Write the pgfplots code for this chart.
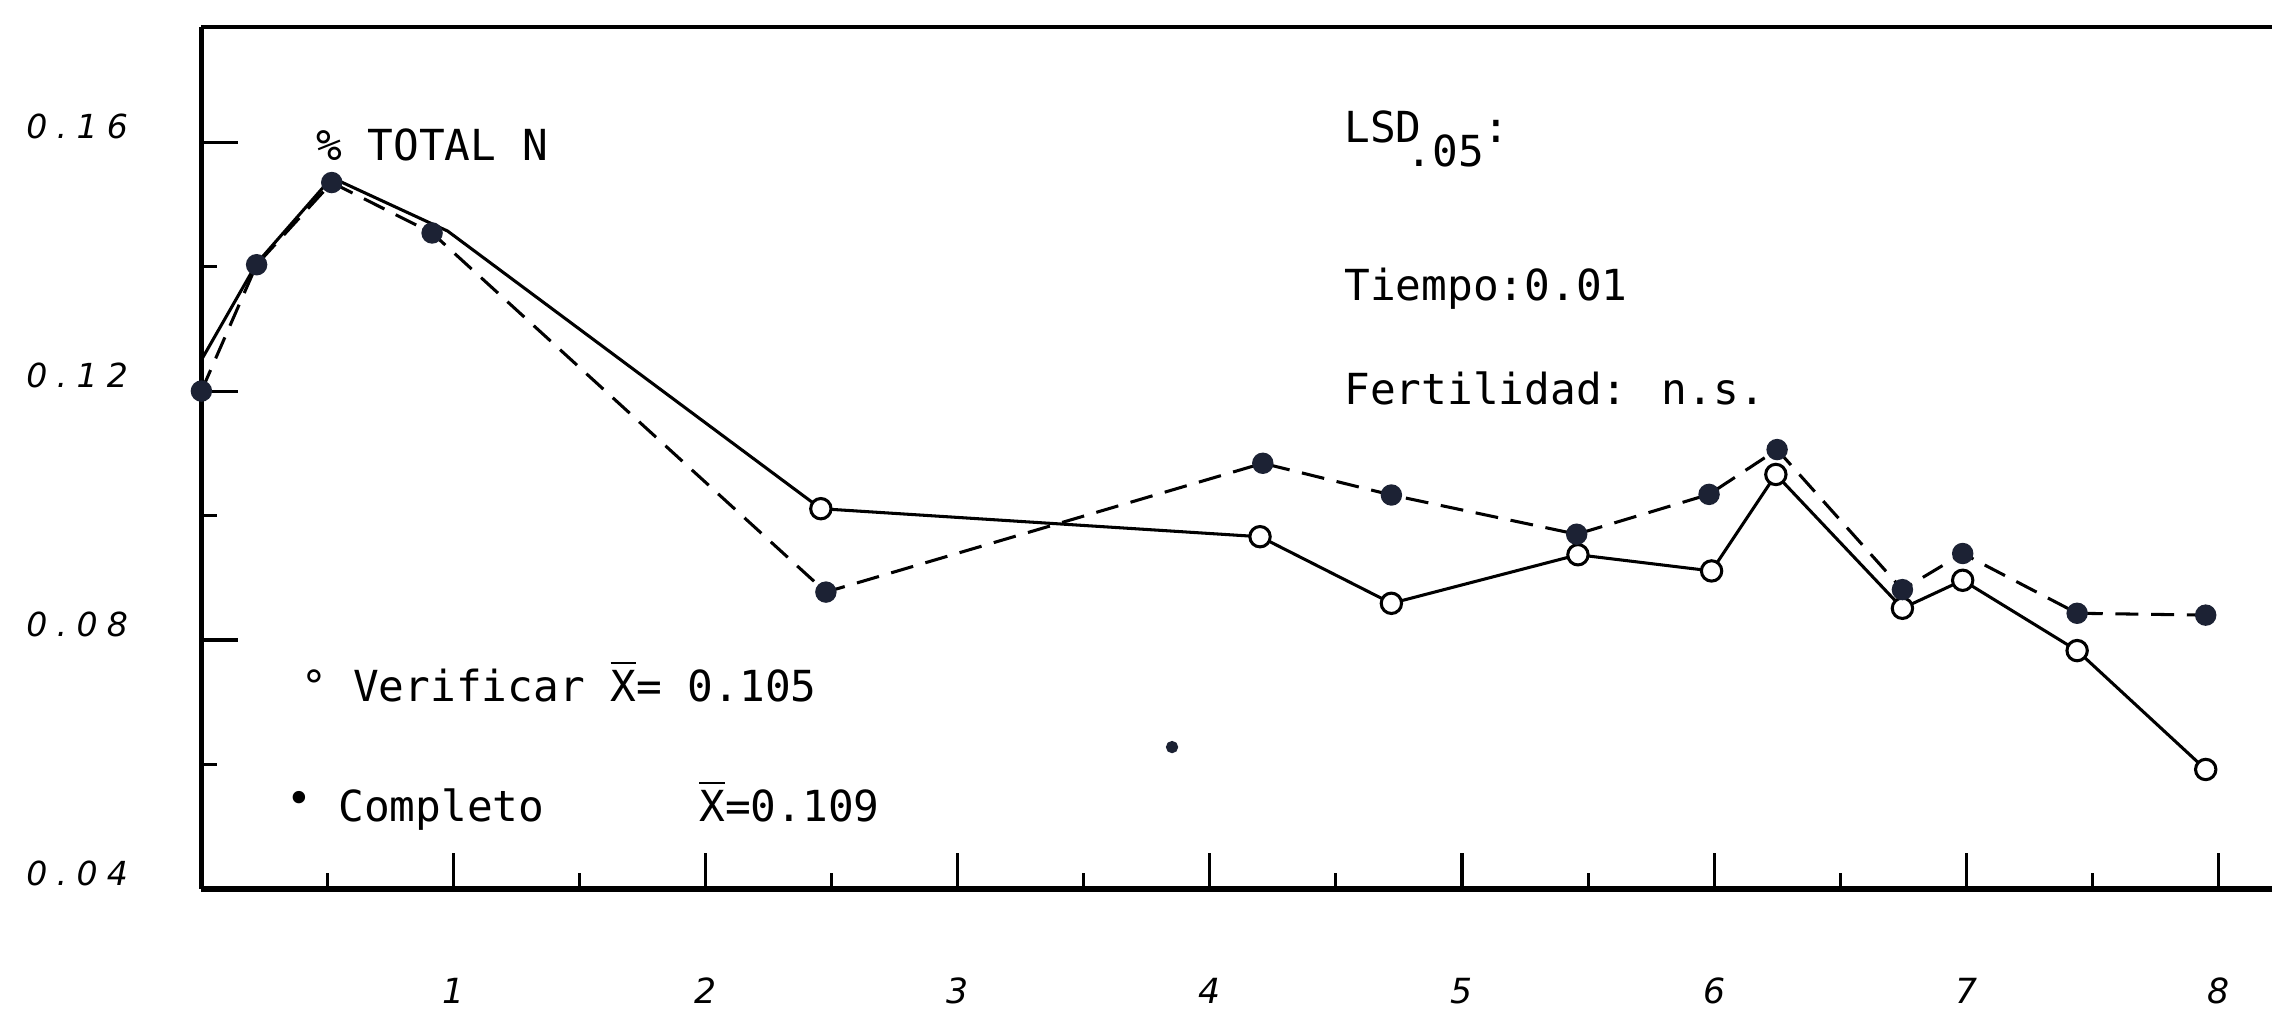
\documentclass[border=0pt]{standalone}
\usepackage{fontspec}
\setmainfont{DejaVu Sans Mono}
\newfontfamily\ytickfont[LetterSpace=28]{DejaVu Sans}
\newfontfamily\xtickfont{DejaVu Sans}
\usepackage{pgfplots}
\usepackage{pgfplotstable}
\pgfplotsset{compat=1.18}
\definecolor{dotcol}{RGB}{28,34,52}

\pgfplotstableread{
x y
0     0.1250
0.219 0.1405
0.517 0.1543
0.977 0.1457
2.457 0.1011
4.199 0.0966
4.720 0.0859
5.460 0.0937
5.990 0.0911
6.245 0.1066
6.747 0.0851
6.986 0.0896
7.440 0.0783
7.950 0.0592
}\verificar

\pgfplotstableread{
x y
0     0.1200
0.219 0.1403
0.517 0.1535
0.915 0.1454
2.477 0.0877
4.210 0.1084
4.720 0.1033
5.455 0.0970
5.980 0.1034
6.250 0.1106
6.747 0.0881
6.986 0.0939
7.440 0.0843
7.950 0.0840
}\completo

\begin{document}
\begin{tikzpicture}
\useasboundingbox (-13.9mm,-8.65mm) rectangle (142.9mm,61.35mm);
\begin{axis}[
  scale only axis, width=142.9mm, height=59.49mm,
  xmin=0, xmax=8.213, ymin=0.04, ymax=0.1785,
  axis x line*=bottom, axis y line*=left,
  axis line style={line width=1pt, black},
  xtick={1,2,3,4,5,6,7,8}, xticklabels={1,2,3,4,5,6,7,8},
  minor xtick={0.5,1.5,2.5,3.5,4.5,5.5,6.5,7.5},
  ytick={0.04,0.08,0.12,0.16}, yticklabels={0.04,0.08,0.12,0.16},
  minor ytick={0.06,0.10,0.14},
  xtick align=inside, ytick align=inside,
  major tick length=2.5mm, minor tick length=1.1mm,
  every tick/.style={black, line width=0.6pt},
  xticklabel style={anchor=center, inner sep=0pt, yshift=-7.05mm, font=\xtickfont\itshape\fontsize{6.8}{8}\selectfont},
  yticklabel style={anchor=east, inner sep=0pt, xshift=-5.0mm, yshift=1.1mm, font=\ytickfont\itshape\fontsize{6.5}{8}\selectfont},
  clip=false,
]
\draw[line width=0.8pt, black] (rel axis cs:0,1) -- (rel axis cs:1,1);

\addplot[black, line width=0.6pt, mark=*, mark size=2pt,
  mark options={solid, fill=white, draw=black, line width=0.6pt},
  mark indices={5,6,7,8,9,10,11,12,13,14}] table {\verificar};
\addplot[black, line width=0.6pt, dash pattern=on 4.5pt off 2.5pt, mark=*, mark size=1.8pt,
  mark options={solid, fill=dotcol, draw=dotcol}] table {\completo};
\addplot[only marks, mark=*, mark size=1pt, dotcol] coordinates {(3.85,0.0628)};

\begin{scope}[every node/.style={anchor=base west, inner sep=0pt, font=\fontsize{8.4}{10}\selectfont}]
\node at (axis cs:0.451,0.1570) {\% TOTAL N};
\node at (axis cs:4.529,0.1600) {LSD\hspace{-0.35em}\raisebox{-1.7mm}{.05}:};
\node at (axis cs:4.529,0.1346) {Tiempo:0.01};
\node at (axis cs:4.529,0.1178) {Fertilidad: n.s.};
\node at (axis cs:0.393,0.0702) {° Verificar \ensuremath{\overline{\hbox{X}}}= 0.105};
\node at (axis cs:0.335,0.0508) {\raisebox{0.6mm}{•} Completo};
\node at (axis cs:1.971,0.0508) {\ensuremath{\overline{\hbox{X}}}=0.109};
\end{scope}
\end{axis}
\end{tikzpicture}
\end{document}
